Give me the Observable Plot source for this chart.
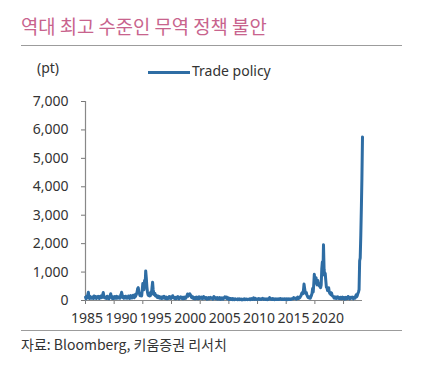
<!DOCTYPE html>
<html><head><meta charset="utf-8">
<script src="https://cdn.jsdelivr.net/npm/d3@7"></script>
<script src="https://cdn.jsdelivr.net/npm/@observablehq/plot@0.6"></script>
<style>
body{margin:0;background:#fff;}
#wrap{position:relative;width:422px;height:369px;overflow:hidden;font-family:"Noto Sans","Noto Sans CJK KR",sans-serif;color:#333;}
#wrap svg{position:absolute;left:0;top:0;}
.abs{position:absolute;line-height:1;white-space:nowrap;z-index:2;}
.title{left:21px;top:17px;font-size:18.8px;color:#c8638d;font-family:"Noto Sans CJK KR",sans-serif;}
.rule{position:absolute;left:21px;width:381px;height:1.5px;background:#9c9c9c;z-index:2;}
.src{left:21px;top:337px;font-size:14px;font-family:"Noto Sans CJK KR",sans-serif;color:#333;}
.unit{left:37px;top:61px;font-size:14px;}
.legline{position:absolute;left:148px;top:71px;width:42px;height:3px;background:#2e6da4;z-index:2;}
.legtxt{left:192px;top:64px;font-size:14px;}
</style></head>
<body>
<div id="wrap">
  <div class="abs title">역대 최고 수준인 무역 정책 불안</div>
  <div class="rule" style="top:44.5px"></div>
  <div class="abs unit">(pt)</div>
  <div class="legline"></div>
  <div class="abs legtxt">Trade policy</div>
  <div class="rule" style="top:329.5px"></div>
  <div class="abs src">자료: Bloomberg, 키움증권 리서치</div>
</div>
<script>
const seriesName = "Trade policy";
const startYear = 1985;
// monthly values, Jan 1985 – Apr 2025
const tradePolicy = [
  120, 60,150, 90,200,290,130, 70,140, 80,120,100,   // 1985
   80,130, 70,160, 90,100,140, 70, 90,130,150, 90,   // 1986
   70,140, 90,160,100,110,200,280,150,100,110, 80,   // 1987
  120, 70,150, 90,130, 60,120,160,240,120,110, 70,   // 1988
  130, 70,110,140, 80,120,150, 80, 90,130, 90,100,   // 1989
   80,150,210,290,200,110,120, 80,140, 90,150, 90,   // 1990
   80,130, 90,160,100, 70,140,170,110, 90,150,180,   // 1991
  120,100,200,140,180,230,300,420,450,300,250,170,   // 1992
  170,230,160,380,600,420,380,700,550,1040,800,500,  // 1993
  300,200,180,250,160,170,300,220,450,645,380,260,   // 1994
  200,250,160,150,170,110,160,100,110,140, 80,120,   // 1995
   90, 70,130, 80,120,150, 90, 70,100,120, 60,100,   // 1996
   70,110,140, 80,130, 70,110,100,170,120,100, 70,   // 1997
  100, 60,110, 70,120,140, 80, 60, 90,110,130, 80,   // 1998
   70,110, 60,100,120, 70,110, 80,130,170,230,150,   // 1999
  180,200,235,190,170,100,100,130, 70,110, 80, 60,   // 2000
  100,120, 70,110, 60,100,130, 70,110, 80,120, 70,   // 2001
   60,100,140,100,110, 70, 80,100, 50, 90, 60,100,   // 2002
   60, 90,110, 80, 80, 90, 50,100,140,110,100, 60,   // 2003
   90, 60,100, 50, 90, 60,100, 40, 80, 50, 90, 60,   // 2004
   50, 90,100,130, 90, 90,120, 60, 70, 90, 40, 80,   // 2005
   40, 70, 60, 40, 70, 30, 60, 40, 30, 60, 40, 45,   // 2006
   40, 30, 60, 40, 30, 55, 35, 30, 50, 25, 45, 30,   // 2007
   45, 60, 30, 50, 35, 55, 40, 30, 45, 40, 60, 30,   // 2008
   50, 70, 50, 35, 50, 90, 50, 40, 80, 50, 40, 55,   // 2009
   40, 60, 70, 40, 60, 45, 35, 60, 70, 80, 50, 40,   // 2010
   60, 40, 35, 60, 40, 30, 55, 40, 60,100, 60, 45,   // 2011
   60, 40, 70, 35, 60, 40, 30, 55, 40, 35, 60, 40,   // 2012
   35, 60, 40, 55, 70, 40, 35, 60, 40, 55, 35, 60,   // 2013
   40, 35, 60, 40, 30, 55, 40, 60, 35, 55, 40, 60,   // 2014
   50, 70, 60,100, 90, 90, 60, 80, 50, 90,120, 70,   // 2015
   70, 90,110,150,180,250,280,240,360,580,430,300,   // 2016
  250,280,200,150,110,140, 90,120, 80,130,180,250,   // 2017
  420,300,550,920,700,650,800,600,550,700,600,550,   // 2018
  500,600,450,550,1100,1350,900,1960,1100,900,950,700, // 2019
  470,450,350,380,450,300,250,280,200,270,180,150,   // 2020
  140,100, 80,130, 90, 70,120, 80,130, 90, 70,100,   // 2021
   70,110, 60,100,120, 70, 60,100, 50, 90,110, 60,   // 2022
   90, 70,140, 90, 90, 60,110, 80, 90,120, 80, 60,   // 2023
   90,120, 80,150,200,130,180,250,300,380,1400,1500, // 2024
  2300,3300,4300,5750                                 // 2025
];
const yTicks = [0,1000,2000,3000,4000,5000,6000,7000];
const xLabelYears = [1985,1990,1995,2000,2005,2010,2015,2020];
const tickEveryMonths = 50;

const data = tradePolicy.map((v,i)=>({date:new Date(Date.UTC(startYear,i,1)), value:v}));
const start = data[0].date, end = data[data.length-1].date;
const labelDates = xLabelYears.map(y=>new Date(Date.UTC(y,0,1)));
const tickDates = d3.range(0, tradePolicy.length, tickEveryMonths).map(m=>new Date(Date.UTC(startYear,m,1)));

const chart = Plot.plot({
  width:422, height:369,
  marginTop:101, marginBottom:69, marginLeft:85, marginRight:60,
  style:{fontFamily:'"Noto Sans","Open Sans",sans-serif', fontSize:"14px", color:"#333", background:"transparent"},
  x:{type:"utc", domain:[start,end]},
  y:{domain:[0,7000]},
  marks:[
    Plot.axisY(yTicks, {tickSize:4, tickPadding:13, stroke:"#777", tickFormat:d=>d.toLocaleString("en-US"), label:null, fontSize:14}),
    Plot.axisX(tickDates, {tickSize:4, stroke:"#777", tickFormat:()=>"", label:null}),
    Plot.axisX(labelDates, {tickSize:0, tickPadding:13, tickFormat:d3.utcFormat("%Y"), label:null, dx:1.5, fontSize:14}),
    Plot.ruleY([0], {stroke:"#888", strokeWidth:1.2}),
    Plot.ruleX([start], {y1:0, y2:7000, stroke:"#888", strokeWidth:1.2}),
    Plot.lineY(data, {x:"date", y:"value", stroke:"#2e6da4", strokeWidth:3, strokeLinejoin:"round"})
  ]
});
document.getElementById("wrap").appendChild(chart);
</script>
</body></html>
